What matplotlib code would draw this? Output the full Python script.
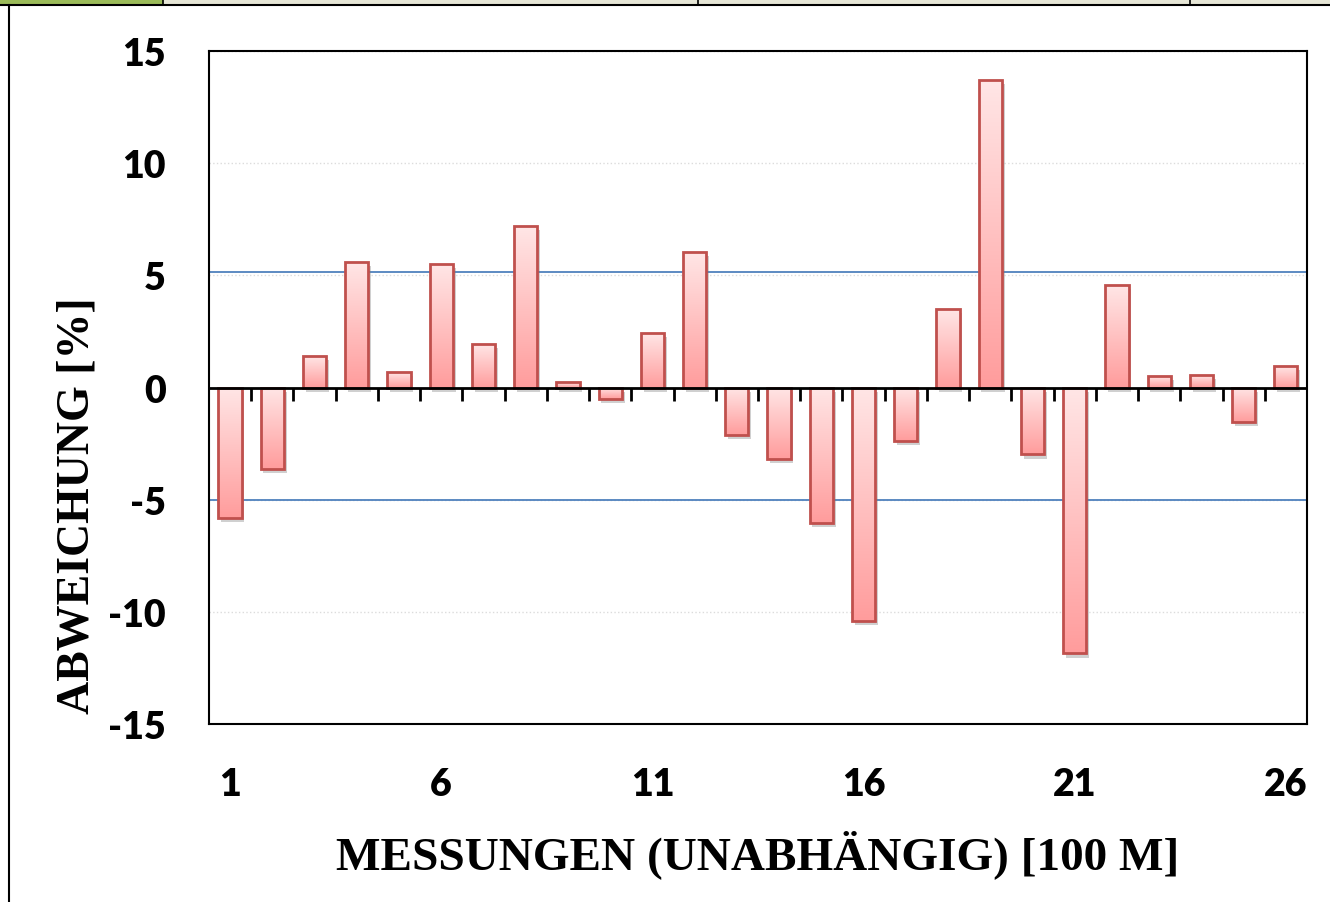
import numpy as np
import matplotlib
matplotlib.use("Agg")
import matplotlib.pyplot as plt
import matplotlib.patheffects as pe
from matplotlib.colors import LinearSegmentedColormap
from matplotlib.lines import Line2D
from matplotlib.patches import Rectangle

plt.rcParams["axes.unicode_minus"] = False

# Messwerte (Abweichung in %)
messungen = np.arange(1, 27)
abweichung = [-5.83, -3.63, 1.42, 5.61, 0.71, 5.51, 1.94, 7.21, 0.25, -0.51,
              2.43, 6.04, -2.12, -3.19, -6.04, -10.40, -2.37, 3.50, 13.71, -2.98,
              -11.85, 4.58, 0.50, 0.56, -1.55, 0.97]
grenze_oben = 5.15
grenze_unten = -5.0
xticks = [1, 6, 11, 16, 21, 26]
yticks = [-15, -10, -5, 0, 5, 10, 15]

fig = plt.figure(figsize=(13.3, 9.03), dpi=100)
ax = fig.add_axes([0.1571, 0.1971, 0.8256, 0.7453])

breite = 0.55
verlauf = LinearSegmentedColormap.from_list("verlauf", ["#ffe6e6", "#ff9c9c"])
schatten = [pe.SimplePatchShadow(offset=(2, -3), shadow_rgbFace="#7a7a7a", alpha=0.35), pe.Normal()]

bars = ax.bar(messungen, abweichung, width=breite, color="#ffc4c4", edgecolor="none",
              zorder=2, path_effects=schatten)
gradient = np.linspace(0, 1, 256).reshape(-1, 1)
for b in bars:
    x0 = b.get_x()
    y0, y1 = sorted([b.get_y(), b.get_y() + b.get_height()])
    im = ax.imshow(gradient, cmap=verlauf, extent=[x0, x0 + b.get_width(), y0, y1],
                   origin="upper", aspect="auto", zorder=2.5, interpolation="bilinear")
    im.set_clip_path(b)
ax.bar(messungen, abweichung, width=breite, fill=False, edgecolor="#c0504d",
       linewidth=2, zorder=3)

ax.axhline(grenze_oben, color="#4f81bd", lw=1.3, zorder=1.5)
ax.axhline(grenze_unten, color="#4f81bd", lw=1.3, zorder=1.5)
ax.axhline(0, color="black", lw=2, zorder=4)
ax.vlines(messungen[:-1] + 0.5, -0.62, 0, color="black", lw=2, zorder=4)

ax.set_xlim(0.5, 26.5)
ax.set_ylim(-15, 15)
ax.set_xticks(xticks)
ax.set_yticks(yticks)
ax.yaxis.grid(True, color="#dcdcdc", linestyle=":", lw=1)
ax.set_axisbelow(True)
ax.tick_params(axis="both", length=0)
ax.tick_params(axis="y", pad=31)
ax.tick_params(axis="x", pad=31)
for lab in ax.get_xticklabels() + ax.get_yticklabels():
    lab.set_fontfamily("Lato")
    lab.set_fontweight("heavy")
    lab.set_fontsize(27)
for s in ax.spines.values():
    s.set_linewidth(1.5)
    s.set_color("black")

ax.set_xlabel("MESSUNGEN (UNABHÄNGIG) [100 M]", family="Liberation Serif",
              fontweight="bold", fontsize=34, labelpad=20)
fig.text(0.058, 0.44, "ABWEICHUNG [%]", family="Liberation Serif", fontweight="bold",
         fontsize=33, rotation=90, ha="center", va="center")

# Rahmen wie in der Tabellenvorlage
fig.add_artist(Rectangle((0, 0.994), 1, 0.006, transform=fig.transFigure,
                         color="#e6e6d6", zorder=0))
fig.add_artist(Rectangle((0, 0.994), 0.122, 0.006, transform=fig.transFigure,
                         color="#9bbb59", zorder=0))
fig.add_artist(Line2D([0, 1], [0.9935, 0.9935], transform=fig.transFigure, color="black", lw=1.5))
fig.add_artist(Line2D([0.0065, 0.0065], [0, 0.9935], transform=fig.transFigure, color="black", lw=1.5))
for xv in [0.1226, 0.5248, 0.8947]:
    fig.add_artist(Line2D([xv, xv], [0.9935, 1], transform=fig.transFigure, color="black", lw=1.2))

fig.savefig("out.png", dpi=100)
